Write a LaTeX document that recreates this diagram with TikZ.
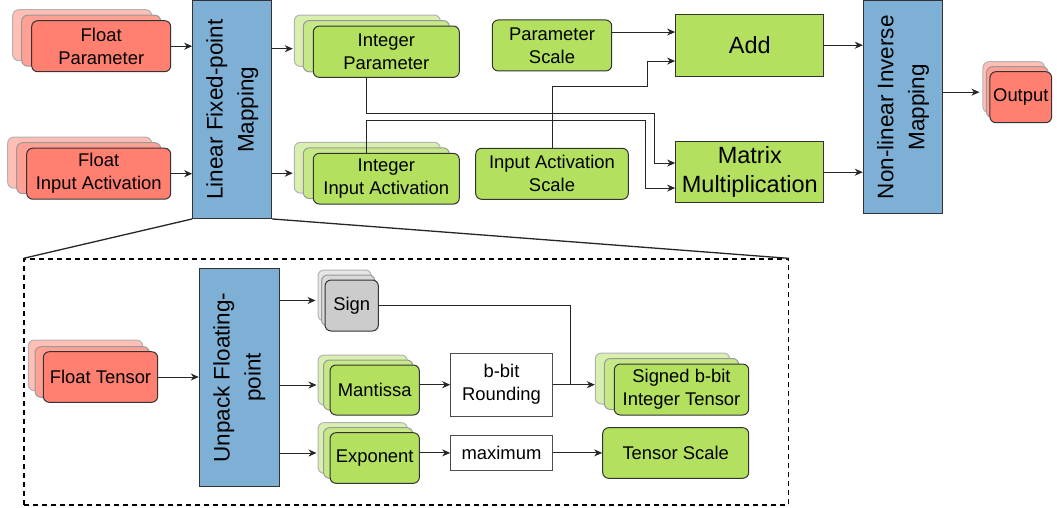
\documentclass[tikz,border=0pt]{standalone}
\usepackage{fontspec}
\setmainfont{Liberation Sans}
\usetikzlibrary{arrows.meta,shadows}

\definecolor{floatred}{HTML}{FF8070}
\definecolor{intgreen}{HTML}{B3E05F}
\definecolor{mapblue}{HTML}{7EB0D5}
\definecolor{signgray}{HTML}{CCCCCC}

\tikzset{
  txt/.style={font=\fontsize{18.4}{23}\selectfont},
  box/.style={txt, draw=black!80, line width=1pt, rounded corners=6pt, align=center, inner sep=0pt},
  stack/.style n args={5}{box, fill=#1,
    copy shadow={fill=#1!50, draw=black!30, shadow xshift=#2, shadow yshift=#3},
    copy shadow={fill=#1!75, draw=black!40, shadow xshift=#4, shadow yshift=#5}},
  bigstack/.style={stack={#1}{-19pt}{11pt}{-10pt}{5.5pt}},
  midstack/.style={stack={#1}{-12pt}{10pt}{-6.5pt}{5pt}},
  smallstack/.style={stack={#1}{-7pt}{10pt}{-3.5pt}{5pt}},
  mapbox/.style={draw=black!80, line width=1pt, fill=mapblue, rotate=90, align=center,
    inner sep=0pt, font=\fontsize{22.5}{31}\selectfont},
  opbox/.style={draw=black!80, line width=1pt, fill=intgreen, align=center, inner sep=0pt,
    font=\fontsize{23.5}{29}\selectfont},
  scalebox/.style={box, fill=intgreen},
  plainbox/.style={txt, draw=black!70, line width=1pt, fill=white, align=center, inner sep=0pt},
  line/.style={line width=1pt, draw=black!85},
  arr/.style={line, -{Stealth[length=8pt,width=7pt,inset=2.5pt]}},
}

\begin{document}
\begin{tikzpicture}[x=1pt,y=-1pt]
\useasboundingbox (0,0) rectangle (1057,508);

% top row
\node[bigstack=floatred, minimum width=139pt, minimum height=51pt] (fp) at (101.2,46.2) {Float\\Parameter};
\node[bigstack=floatred, minimum width=144pt, minimum height=51pt] (fi) at (98.7,173.7) {Float\\Input Activation};
\node[mapbox, minimum width=217.5pt, minimum height=79pt] (lfm) at (232.2,109.7) {Linear Fixed-point\\Mapping};
\node[bigstack=intgreen, minimum width=146pt, minimum height=51.3pt] (ip) at (386.3,51.7) {Integer\\Parameter};
\node[bigstack=intgreen, minimum width=146pt, minimum height=50.7pt] (ii) at (386.3,178.7) {Integer\\Input Activation};
\node[scalebox, minimum width=119.4pt, minimum height=51pt] (ps) at (552,45.5) {Parameter\\Scale};
\node[scalebox, minimum width=152.6pt, minimum height=51pt] (ias) at (552,173.8) {Input Activation\\Scale};
\node[opbox, minimum width=148.3pt, minimum height=61.7pt] (add) at (749.8,45.2) {Add};
\node[opbox, minimum width=148.3pt, minimum height=61pt] (mm) at (749.8,172.2) {Matrix\\Multiplication};
\node[mapbox, minimum width=213.5pt, minimum height=79.4pt] (nl) at (903,107.2) {Non-linear Inverse\\Mapping};
\node[smallstack=floatred, minimum width=61.7pt, minimum height=51pt] (out) at (1020.8,97.2) {Output};

\coordinate (ipin) at ([xshift=-20pt,yshift=3pt]ip.west);
\coordinate (iiin) at ([xshift=-20pt,yshift=5.5pt]ii.west);
\coordinate (outin) at ([xshift=-10pt,yshift=5pt]out.west);

\draw[arr] (fp.east) -- (fp.east -| lfm.north);
\draw[arr] (fi.east) -- (fi.east -| lfm.north);
\draw[arr] (lfm.south |- ipin) -- (ipin);
\draw[arr] (lfm.south |- iiin) -- (iiin);
\draw[arr] (ps.east |- add.170) -- (add.170);
\draw[arr] (ias.north) |- ++(95,-61.6) |- (add.192);
\draw[arr] ([xshift=-20pt]ip.south) |- ++(288,35.4) |- (mm.173);
\draw[arr] ([xshift=-20pt]ii.north) |- ++(279.4,-32.6) |- (mm.192);
\draw[arr] (add.east) -- (add.east -| nl.north);
\draw[arr] (mm.east) -- (mm.east -| nl.north);
\draw[arr] (nl.south |- outin) -- (outin);

% detail of the mapping
\node[draw=black, line width=1.3pt, dash pattern=on 5pt off 4pt, minimum width=764.3pt, minimum height=246pt] (frame) at (406.2,382) {};
\draw[line, line width=1.3pt] (lfm.north west) -- (frame.north west);
\draw[line, line width=1.3pt] (lfm.south west) -- (frame.north east);

\node[stack={floatred}{-15pt}{11.7pt}{-8.3pt}{5pt}, minimum width=114.4pt, minimum height=50.6pt] (ft) at (100.5,377) {Float Tensor};
\node[mapbox, minimum width=218.4pt, minimum height=80pt] (up) at (239.3,377.5) {Unpack Floating-\\point};
\node[smallstack=signgray, minimum width=53.3pt, minimum height=51pt] (sign) at (351.7,305.5) {Sign};
\node[midstack=intgreen, minimum width=89.3pt, minimum height=50pt] (man) at (374.7,390) {Mantissa};
\node[midstack=intgreen, minimum width=89.3pt, minimum height=50.6pt] (exp) at (374.7,458) {Exponent};
\node[plainbox, minimum width=101.6pt, minimum height=62.7pt] (bbit) at (501.5,384.7) {b-bit\\Rounding};
\node[plainbox, minimum width=101.6pt, minimum height=34.3pt] (max) at (501.5,452.9) {maximum};
\node[bigstack=intgreen, minimum width=134.4pt, minimum height=51pt] (sbi) at (681.5,389.5) {Signed b-bit\\Integer Tensor};
\node[box, fill=intgreen, minimum width=146pt, minimum height=50.6pt] (ts) at (675.7,453) {Tensor Scale};

\foreach \n/\dx in {sign/-9,man/-13,exp/-13}
  \coordinate (in-\n) at ([xshift=\dx pt,yshift=5pt]\n.west);
\coordinate (sbiin) at ([xshift=-19pt,yshift=5pt]sbi.west);

\draw[arr] (ft.east) -- (ft.east -| up.north);
\foreach \n in {sign,man,exp}
  \draw[arr] (up.south |- in-\n) -- (in-\n);
\draw[arr] (man.east |- bbit.west) -- (bbit.west);
\draw[arr] (exp.east |- max.west) -- (max.west);
\draw[arr] (bbit.east) -- (bbit.east -| sbiin);
\draw[line] (sign.east) -| ([xshift=18pt]bbit.east);
\draw[arr] (max.east) -- (max.east -| ts.west);
\end{tikzpicture}
\end{document}
